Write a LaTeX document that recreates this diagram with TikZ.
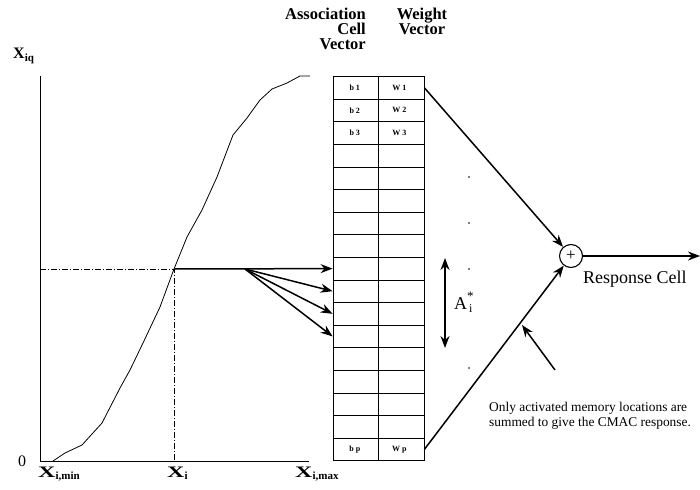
\documentclass[tikz,border=0pt]{standalone}
\usepackage{fontspec}
\setmainfont{Liberation Serif}
\usetikzlibrary{arrows.meta}
\begin{document}
\begin{tikzpicture}[x=1pt,y=-1pt,
  cell/.style={draw, line width=0.8pt, minimum width=45.5pt, minimum height=22.6pt, inner sep=0pt},
  celltext/.style={inner sep=0pt, font=\fontsize{8}{8}\selectfont\bfseries},
  arr/.style={-{Stealth[length=12pt,width=9pt]}, line width=1.5pt},
  dashdot/.style={dash pattern=on 6pt off 2pt on 1pt off 2pt, line width=0.6pt},
  head/.style={inner sep=0pt, font=\fontsize{16.5}{16.5}\selectfont\bfseries},
  lbl/.style={inner sep=0pt, font=\fontsize{16}{16}\selectfont}
]
\useasboundingbox (0,0) rectangle (700,489);

% headers
\node[head, anchor=base east] (hA1) at (366,19.5) {Association};
\node[head, anchor=base east] (hA2) at (366,34.5) {Cell};
\node[head, anchor=base east] (hA3) at (366,49.5) {Vector};
\node[head, anchor=base] (hW1) at (422,19.5) {Weight};
\node[head, anchor=base] (hW2) at (422,34.5) {Vector};

% table
\foreach \k in {1,...,17}{
  \node[cell] (b\k) at (355.75,{76.5+(\k-0.5)*22.6}) {};
  \node[cell] (w\k) at (401.25,{76.5+(\k-0.5)*22.6}) {};
}
\node[celltext] (tb1) at ([xshift=-1pt]b1) {b 1};
\node[celltext] (tb2) at ([xshift=-1pt]b2) {b 2};
\node[celltext] (tb3) at ([xshift=-1pt]b3) {b 3};
\node[celltext] (tbp) at ([xshift=-1pt]b17) {b p};
\node[celltext] (tw1) at ([xshift=-2pt]w1) {W 1};
\node[celltext] (tw2) at ([xshift=-2pt]w2) {W 2};
\node[celltext] (tw3) at ([xshift=-2pt]w3) {W 3};
\node[celltext] (twp) at ([xshift=-2pt]w17) {W p};

% axes
\draw[line width=1pt] (40,76) -- (40,461) -- (309,461);
\node[lbl, anchor=base] (zero) at (22,466) {0};
\node[lbl, anchor=base west] (xiq) at (13,59) {\textbf{X}\raisebox{-0.35ex}{\fontsize{11}{11}\selectfont\bfseries iq}};
\node[lbl, anchor=base west] (xmin) at (38,477) {\scalebox{1.5}[1]{\textbf{X}}\raisebox{-0.4ex}{\fontsize{11}{11}\selectfont\bfseries i,min}};
\node[lbl, anchor=base west] (xi) at (167,477) {\scalebox{1.5}[1]{\textbf{X}}\raisebox{-0.4ex}{\fontsize{11}{11}\selectfont\bfseries i}};
\node[lbl, anchor=base west] (xmax) at (295,477) {\scalebox{1.5}[1]{\textbf{X}}\raisebox{-0.4ex}{\fontsize{11}{11}\selectfont\bfseries i,max}};

% curve
\coordinate (P) at (174,269);
\draw[line width=0.8pt] (53,461) -- (65,453) -- (82,445) -- (102,423) -- (120,388) -- (130,370)
  -- (143,343) -- (160,307) -- (P) -- (187,237) -- (202,210) -- (217,177) -- (233,135)
  -- (247,118) -- (260,100) -- (272,89) -- (287,83) -- (300,76) -- (310,76);
\draw[dashdot] (40,269) -- (P) -- (174,461);

% input arrows
\coordinate (fan) at (245,269);
\draw[arr] (P) -- (b9.west);
\draw[arr] (fan) -- (b10.west);
\draw[arr] (fan) -- (b11.west);
\draw[arr] (fan) -- (b12.west);

% A_i^* range
\coordinate (ai1) at (445,258);
\coordinate (ai2) at (445,348);
\draw[{Stealth[length=12pt,width=9pt]}-{Stealth[length=12pt,width=9pt]}, line width=1.5pt] (ai1) -- (ai2);
\node[inner sep=0pt, anchor=base west, font=\fontsize{18}{18}\selectfont] (ai) at (454,309) {A\rlap{\raisebox{-0.45ex}{\fontsize{12}{12}\selectfont\,i}}\raisebox{1.0ex}{\fontsize{13}{13}\selectfont *}};
\foreach \yy in {177,223,269,368}{
  \fill (469,\yy) circle (0.8pt);
}

% summation
\node[circle, draw, line width=1.1pt, minimum size=23pt, inner sep=0pt, font=\fontsize{17}{17}\selectfont] (sum) at (571,256) {+};
\draw[arr] (w1.east) -- (sum);
\draw[arr] (w17.east) -- (sum);
\coordinate (out) at (700,256);
\draw[arr] (sum) -- (out);
\node[inner sep=0pt, anchor=base west, font=\fontsize{18}{18}\selectfont] (rc) at (583,283) {Response Cell};

% note
\coordinate (ct) at (555,370);
\coordinate (ch) at (522,325);
\draw[arr] (ct) -- (ch);
\node[inner sep=0pt, anchor=base west, font=\fontsize{13.4}{13.4}\selectfont] (n1) at (489,411) {Only activated memory locations are};
\node[inner sep=0pt, anchor=base west, font=\fontsize{13.4}{13.4}\selectfont] (n2) at (489,426) {summed to give the CMAC response.};
\end{tikzpicture}
\end{document}
